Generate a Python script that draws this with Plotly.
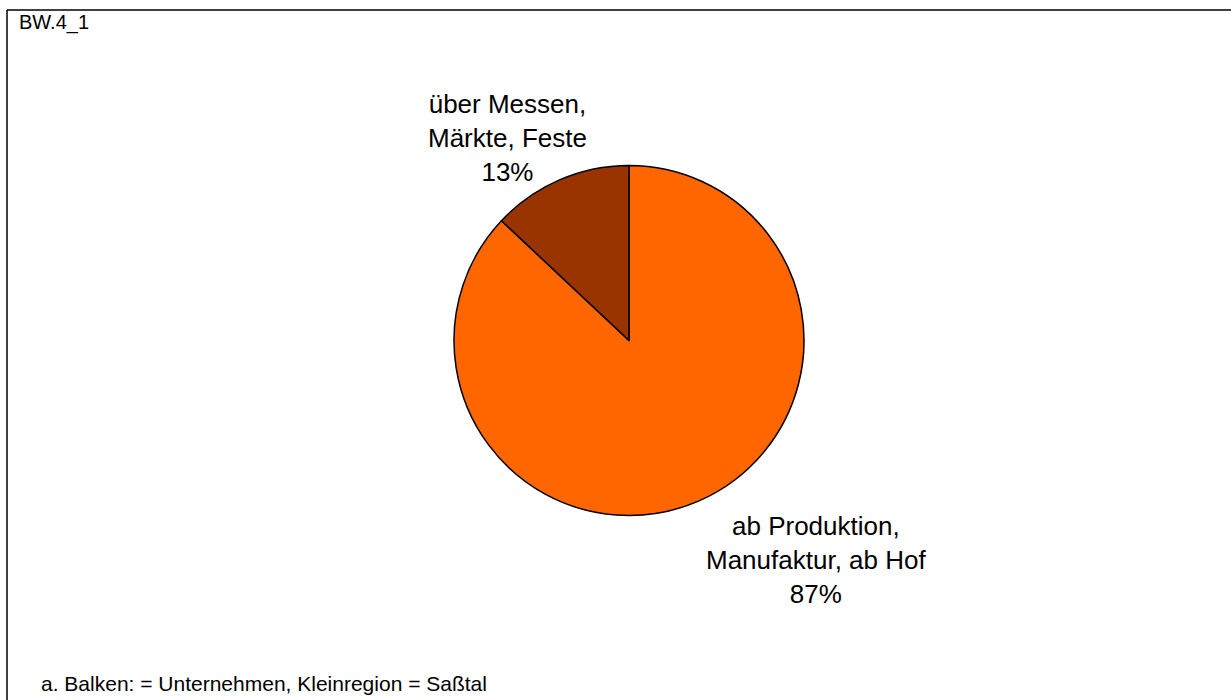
import plotly.graph_objects as go

# Sales channels, share of companies (%)
categories = ["ab Produktion,\nManufaktur, ab Hof", "über Messen,\nMärkte, Feste"]
shares = [87, 13]
colors = ["#FF6600", "#993300"]

chart_id = "BW.4_1"
footnote = "a. Balken: = Unternehmen, Kleinregion = Saßtal"

W, H = 1231, 700
FONT = "Liberation Sans, Arial, sans-serif"


def px(x):
    return x / W


def py(y):
    return 1 - y / H


fig = go.Figure(
    go.Pie(
        labels=[c.replace("\n", " ") for c in categories],
        values=shares,
        sort=False,
        direction="clockwise",
        rotation=0,
        marker=dict(colors=colors, line=dict(color="#000000", width=1.5)),
        textinfo="none",
        hoverinfo="skip",
        showlegend=False,
        domain=dict(x=[px(454), px(804)], y=[py(515.5), py(165.5)]),
    )
)

# slice labels outside the pie
label_pos = [(816, 560), (507, 138)]
annotations = []
for cat, share, (lx, ly) in zip(categories, shares, label_pos):
    annotations.append(
        dict(
            x=px(lx), y=py(ly), xref="paper", yref="paper",
            text=cat.replace("\n", "<br>") + f"<br>{share}%",
            showarrow=False, xanchor="center", yanchor="middle",
            align="center",
            font=dict(family=FONT, size=26, color="#000000"),
        )
    )

annotations.append(
    dict(
        x=px(17), y=py(23), xref="paper", yref="paper",
        text=chart_id, showarrow=False, xanchor="left", yanchor="middle",
        font=dict(family=FONT, size=20, color="#000000"),
    )
)
annotations.append(
    dict(
        x=px(39), y=py(683), xref="paper", yref="paper",
        text=footnote, showarrow=False, xanchor="left", yanchor="middle",
        font=dict(family=FONT, size=21, color="#000000"),
    )
)

# outer frame (top and left edges)
shapes = [
    dict(type="line", xref="paper", yref="paper",
         x0=px(7), x1=1, y0=py(10), y1=py(10),
         line=dict(color="#000000", width=1.5)),
    dict(type="line", xref="paper", yref="paper",
         x0=px(7), x1=px(7), y0=py(10), y1=0,
         line=dict(color="#000000", width=1.5)),
]

fig.update_layout(
    width=W, height=H,
    margin=dict(l=0, r=0, t=0, b=0),
    paper_bgcolor="#FFFFFF",
    plot_bgcolor="#FFFFFF",
    annotations=annotations,
    shapes=shapes,
    font=dict(family=FONT),
)

fig.write_html("out.html")
